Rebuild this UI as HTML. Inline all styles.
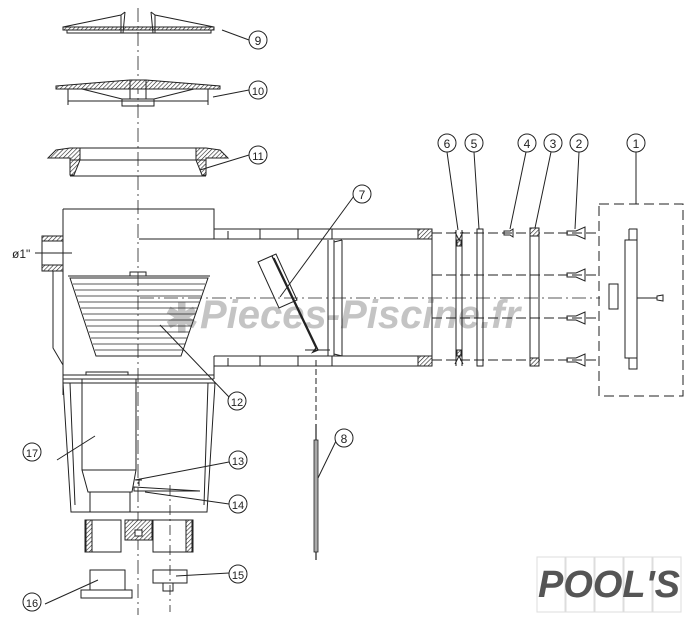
<!DOCTYPE html>
<html><head><meta charset="utf-8"><style>
html,body{margin:0;padding:0;background:#fff;}
svg{display:block;}
text{font-family:"Liberation Sans",sans-serif;}
</style></head><body>
<svg width="696" height="629" viewBox="0 0 696 629" xmlns="http://www.w3.org/2000/svg">
<defs>
<pattern id="h" width="3" height="3" patternUnits="userSpaceOnUse" patternTransform="rotate(45)"><rect width="3" height="3" fill="#fff"/><line x1="0" y1="0" x2="0" y2="3" stroke="#222" stroke-width="1.2"/></pattern>
</defs>
<!-- watermark -->
<g fill="#c4c4c4">
<text x="200" y="328" font-size="40" font-weight="bold" font-style="italic">Pieces-Piscine.fr</text>
<text x="165" y="332" font-size="40" font-weight="bold">✱</text>
</g>
<g fill="none" stroke="#222" stroke-width="1">
<line x1="138" y1="8" x2="138" y2="615" stroke-dasharray="14,4,2,4" stroke-width="0.8"/>
<line x1="140" y1="298" x2="600" y2="298" stroke-dasharray="14,4,2,4" stroke-width="0.8"/>
<!-- part 9 -->
<path d="M63 27 L214 27 L214 30 L63 30 Z" fill="url(#h)"/>
<path d="M67 30 L211 30 L211 33 L67 33 Z"/>
<path d="M63 27 L121 15 L125 12 M214 27 L155 15 L151 12"/>
<path d="M121 15 L121 33 M155 15 L155 33 M125 12 L123 33 M151 12 L153 33"/>
<!-- part 10 -->
<path d="M56 86 L130 80 L146 80 L220 86 L220 89 L56 89 Z" fill="url(#h)"/>
<path d="M68 89 L68 105 M208 89 L208 105 M68 101 L208 101 M82 89 L122 99 L154 99 L194 89 M122 99 L122 106 L154 106 L154 99 M130 80 L130 99 M146 80 L146 99"/>
<!-- part 11 -->
<path d="M56 150 L70 148 L80 148 L80 160 L74 175 L70 175 L70 158 L48 158 Z" fill="url(#h)"/>
<path d="M220 150 L206 148 L196 148 L196 160 L202 175 L206 175 L206 158 L228 158 Z" fill="url(#h)"/>
<path d="M70 148 L206 148 M70 160 L206 160 M70 176 L206 176"/>
<!-- body top -->
<path d="M63 209 L214 209 L214 229 L420 229 M139 239 L420 239 M214 356 L420 356 M214 366 L420 366"/>
<path d="M214 229 L214 239 M214 356 L214 366"/>
<path d="M260 229 L260 239 M298 229 L298 239 M332 229 L332 239 M260 356 L260 366 M298 356 L298 366 M332 356 L332 366 M228 231 L228 239 M228 358 L228 366"/>
<rect x="418" y="229" width="14" height="10" fill="url(#h)"/>
<rect x="418" y="356" width="14" height="10" fill="url(#h)"/>
<line x1="432" y1="229" x2="432" y2="366"/>
<path d="M328 240 L328 356 M334 240 L334 356 M342 240 L342 356 M334 242 L342 240 M334 354 L342 356"/>
<line x1="432" y1="275" x2="600" y2="275" stroke-dasharray="10,4"/>
<line x1="432" y1="318" x2="600" y2="318" stroke-dasharray="10,4"/>
<line x1="432" y1="233" x2="600" y2="233" stroke-dasharray="10,4"/>
<line x1="432" y1="360" x2="600" y2="360" stroke-dasharray="10,4"/>
<!-- left fitting -->
<path d="M63 209 L63 395 M53 270 L53 348 L63 365"/>
<rect x="42" y="236" width="21" height="5" fill="url(#h)"/>
<rect x="42" y="265" width="21" height="6" fill="url(#h)"/>
<path d="M42 241 L42 265 M35 253 L72 253"/>
<!-- basket 12 -->
<path d="M68 276 L210 276 M70 278 L208 278 L181 356 L96 356 Z M130 276 L130 272 L146 272 L146 276"/>
<g stroke-width="0.7">
<line x1="73" y1="284" x2="205" y2="284"/><line x1="75" y1="290" x2="203" y2="290"/><line x1="77" y1="296" x2="201" y2="296"/><line x1="79" y1="302" x2="199" y2="302"/><line x1="81" y1="308" x2="197" y2="308"/><line x1="83" y1="314" x2="195" y2="314"/><line x1="85" y1="320" x2="193" y2="320"/><line x1="87" y1="326" x2="191" y2="326"/><line x1="89" y1="332" x2="189" y2="332"/><line x1="91" y1="338" x2="187" y2="338"/><line x1="93" y1="344" x2="185" y2="344"/><line x1="95" y1="350" x2="183" y2="350"/>
</g>
<!-- lower body -->
<path d="M63 375 L214 375 M63 379 L214 379 M214 366 L214 379"/>
<path d="M86 375 L86 372 L128 372 L128 375"/>
<path d="M63 383 L71 512 L207 512 L215 383 Z M70 383 L75 505 M208 383 L204 505"/>
<path d="M82 379 L82 470 L88 492 L132 492 L136 470 L136 379 M82 470 L136 470 M90 492 L90 512 M130 492 L130 512"/>
<path d="M134 487 L200 491 L134 491 Z"/>
<path d="M136 480 L142 480 M139 480 L139 486"/>
<line x1="170" y1="485" x2="170" y2="612" stroke-dasharray="10,4,2,4" stroke-width="0.8"/>
<!-- fittings -->
<rect x="85" y="520" width="36" height="32"/>
<rect x="125" y="520" width="27" height="20" fill="url(#h)"/>
<rect x="153" y="520" width="40" height="32"/>
<rect x="86" y="520" width="6" height="32" fill="url(#h)"/>
<rect x="186" y="520" width="6" height="32" fill="url(#h)"/>
<rect x="135" y="530" width="7" height="6" fill="#fff"/>
<rect x="90" y="570" width="35" height="20"/>
<rect x="81" y="590" width="51" height="8"/>
<rect x="153" y="570" width="34" height="13"/>
<rect x="163" y="583" width="10" height="8"/>
<!-- part 7 -->
<path d="M258 262 L276 254 L297 300 L279 308 Z"/>
<path d="M272 256 L316 348 L313 352 L318 350 L274 258" stroke-width="1.4"/>
<line x1="305" y1="350" x2="330" y2="350"/>
<line x1="316" y1="360" x2="316" y2="420" stroke-dasharray="6,3"/>
<!-- part 8 -->
<line x1="316" y1="424" x2="316" y2="560" stroke-width="1.2"/>
<rect x="314" y="440" width="4" height="112" fill="#aaa" stroke-width="0.8"/>
<!-- part 6 -->
<path d="M456 230 L456 366 M462 230 L462 366 M455 232 L459 240 L463 232 M455 364 L459 356 L463 364"/>
<rect x="457" y="240" width="4" height="6" fill="url(#h)"/>
<rect x="457" y="350" width="4" height="6" fill="url(#h)"/>
<rect x="477" y="229" width="6" height="137"/>
<path d="M504 231 L510 231 L513 229 L513 237 L510 235 L504 235 Z"/>
<rect x="530" y="228" width="9" height="138"/>
<rect x="530" y="228" width="9" height="8" fill="url(#h)"/>
<rect x="530" y="358" width="9" height="8" fill="url(#h)"/>
<path d="M567 231 L576 231 L585 227 L585 239 L576 235 L567 235 Z"/>
<path d="M567 273 L576 273 L585 269 L585 281 L576 277 L567 277 Z"/>
<path d="M567 316 L576 316 L585 312 L585 324 L576 320 L567 320 Z"/>
<path d="M567 358 L576 358 L585 354 L585 366 L576 362 L567 362 Z"/>
<rect x="599" y="204" width="84" height="192" stroke-dasharray="10,5"/>
<rect x="625" y="240" width="12" height="118"/>
<path d="M629 229 L637 229 L637 240 M629 229 L629 240 M629 358 L629 369 L637 369 L637 358"/>
<rect x="609" y="284" width="9" height="25"/>
<line x1="637" y1="298" x2="657" y2="298"/>
<path d="M657 296 L663 295 L663 301 L657 300 Z"/>
<!-- leader lines -->
<path d="M222 30 L249 40 M213 97 L249 90 M200 170 L249 155 M280 297 L354 196 M160 325 L229 397 M57 460 L95 436 M135 480 L229 462 M145 492 L229 504 M176 576 L229 573 M45 604 L98 580 M318 478 L336 441 M458 230 L447 152 M479 229 L474 152 M510 229 L526 152 M535 228 L551 152 M575 229 L579 152 M636 204 L636 152"/>
<g fill="#fff">
<circle cx="258" cy="40" r="9"/><circle cx="258" cy="90" r="9"/><circle cx="258" cy="155" r="9"/>
<circle cx="362" cy="194" r="9"/><circle cx="447" cy="143" r="9"/><circle cx="474" cy="143" r="9"/>
<circle cx="527" cy="143" r="9"/><circle cx="553" cy="143" r="9"/><circle cx="579" cy="143" r="9"/>
<circle cx="636" cy="143" r="9"/><circle cx="237" cy="401" r="9"/><circle cx="32" cy="452" r="9"/>
<circle cx="238" cy="460" r="9"/><circle cx="238" cy="504" r="9"/><circle cx="238" cy="574" r="9"/>
<circle cx="32" cy="602" r="9"/><circle cx="344" cy="438" r="9"/>
</g>
</g>
<g font-size="12" text-anchor="middle" fill="#222">
<text x="258" y="45">9</text><text x="258" y="95" font-size="11">10</text><text x="258" y="160" font-size="11">11</text>
<text x="362" y="199">7</text><text x="447" y="148">6</text><text x="474" y="148">5</text>
<text x="527" y="148">4</text><text x="553" y="148">3</text><text x="579" y="148">2</text>
<text x="636" y="148">1</text><text x="237" y="406" font-size="11">12</text><text x="32" y="457" font-size="11">17</text>
<text x="238" y="465" font-size="11">13</text><text x="238" y="509" font-size="11">14</text><text x="238" y="579" font-size="11">15</text>
<text x="32" y="607" font-size="11">16</text><text x="344" y="443">8</text>
</g>
<text x="12" y="258" font-size="12" fill="#222">ø1"</text>
<g stroke="#ddd" fill="none"><rect x="537" y="557" width="28" height="55"/><rect x="566" y="557" width="28" height="55"/><rect x="595" y="557" width="28" height="55"/><rect x="624" y="557" width="28" height="55"/><rect x="653" y="557" width="28" height="55"/></g>
<text x="538" y="597" font-size="38" font-weight="bold" font-style="italic" fill="#555" textLength="142" lengthAdjust="spacingAndGlyphs">POOL'S</text>
</svg>
</body></html>
